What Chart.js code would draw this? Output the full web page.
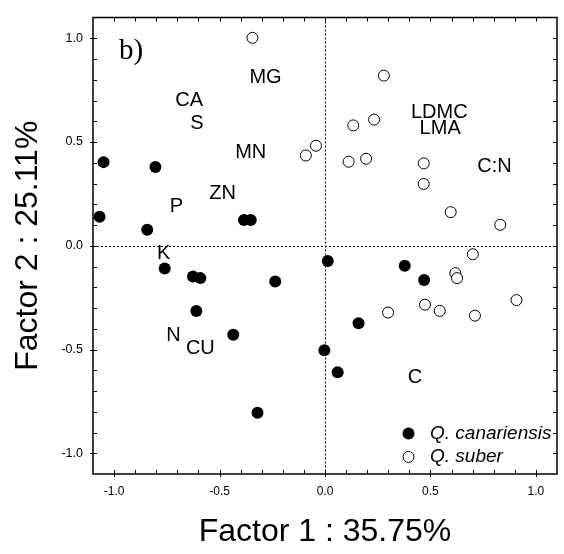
<!DOCTYPE html>
<html>
<head>
<meta charset="utf-8">
<script src="https://cdn.jsdelivr.net/npm/chart.js@4.4.0/dist/chart.umd.min.js"></script>
<style>
  html, body { margin: 0; padding: 0; background: #fff; }
  canvas { display: block; }
</style>
</head>
<body>
<canvas id="myChart" width="564" height="554"></canvas>
<script>
// Sample scores, Q. canariensis (filled)
var canX = [-1.050, -0.804, -1.069, -0.843, -0.384, -0.352, -0.760, -0.626, -0.591, -0.236,
            -0.610, -0.435, -0.320, 0.013, 0.378, 0.470, 0.159, -0.003, 0.060];
var canY = [0.403, 0.380, 0.140, 0.077, 0.124, 0.124, -0.110, -0.148, -0.156, -0.172,
            -0.315, -0.429, -0.805, -0.073, -0.096, -0.165, -0.374, -0.504, -0.610];

// Sample scores, Q. suber (open)
var subX = [-0.344, -0.091, -0.043, 0.279, 0.233, 0.134, 0.112, 0.195, 0.468, 0.468,
            0.596, 0.831, 0.701, 0.618, 0.626, 0.908, 0.474, 0.299, 0.544, 0.711];
var subY = [1.002, 0.435, 0.482, 0.820, 0.608, 0.580, 0.405, 0.419, 0.397, 0.298,
            0.162, 0.101, -0.041, -0.132, -0.156, -0.262, -0.284, -0.322, -0.314, -0.337];

// Variable loadings (text labels)
var varNames = ["MG", "CA", "S", "MN", "ZN", "P", "K", "N", "CU", "C", "LDMC", "LMA", "C:N"];
var varX = [-0.282, -0.644, -0.607, -0.352, -0.486, -0.705, -0.765, -0.719, -0.591, 0.426, 0.542, 0.546, 0.804];
var varY = [0.812, 0.699, 0.589, 0.449, 0.251, 0.190, -0.039, -0.432, -0.496, -0.633, 0.640, 0.565, 0.384];

// Axis ticks
var tickVals = [-1.0, -0.5, 0.0, 0.5, 1.0];
var axisMin = -1.1, axisMax = 1.1;

var seriesNames = ["Q. canariensis", "Q. suber"];
var panelLabel = "b)";

function toPoints(xs, ys) {
  return xs.map(function (x, i) { return { x: x, y: ys[i] }; });
}

Chart.defaults.font.family = '"Liberation Sans", Arial, sans-serif';
Chart.defaults.color = '#000';

// zero lines, frame with inward ticks, labels and legend
var pcaDecor = {
  id: 'pcaDecor',
  beforeDatasetsDraw: function (chart) {
    var ctx = chart.ctx, a = chart.chartArea;
    var x0 = Math.round(chart.scales.x.getPixelForValue(0)) + 0.5;
    var y0 = Math.round(chart.scales.y.getPixelForValue(0)) + 0.5;
    ctx.save();
    ctx.strokeStyle = '#000';
    ctx.lineWidth = 1;
    ctx.setLineDash([2, 2]);
    ctx.beginPath();
    ctx.moveTo(x0, a.top); ctx.lineTo(x0, a.bottom);
    ctx.moveTo(a.left, y0); ctx.lineTo(a.right, y0);
    ctx.stroke();
    ctx.restore();
  },
  afterDatasetsDraw: function (chart) {
    var ctx = chart.ctx, a = chart.chartArea;
    var xs = chart.scales.x, ys = chart.scales.y;
    ctx.save();
    ctx.strokeStyle = '#000';
    ctx.lineWidth = 1.5;
    ctx.strokeRect(a.left, a.top, a.right - a.left, a.bottom - a.top);

    // minor ticks every 0.1, pointing inward
    ctx.lineWidth = 1;
    ctx.beginPath();
    for (var i = -10; i <= 10; i++) {
      var v = i / 10;
      var out = (i % 5 === 0) ? 3 : 0;
      var px = Math.round(xs.getPixelForValue(v)) + 0.5;
      var py = Math.round(ys.getPixelForValue(v)) + 0.5;
      ctx.moveTo(px, a.bottom + out); ctx.lineTo(px, a.bottom - 4);
      ctx.moveTo(px, a.top); ctx.lineTo(px, a.top + 4);
      ctx.moveTo(a.left - out, py); ctx.lineTo(a.left + 4, py);
      ctx.moveTo(a.right, py); ctx.lineTo(a.right - 4, py);
    }
    ctx.stroke();

    // variable names
    ctx.fillStyle = '#000';
    ctx.font = '20px "Liberation Sans", Arial, sans-serif';
    ctx.textAlign = 'center';
    ctx.textBaseline = 'middle';
    varNames.forEach(function (name, i) {
      ctx.fillText(name, xs.getPixelForValue(varX[i]), ys.getPixelForValue(varY[i]));
    });

    // panel letter
    ctx.font = '29px "Liberation Serif", "Times New Roman", serif';
    ctx.textAlign = 'left';
    ctx.textBaseline = 'alphabetic';
    ctx.fillText(panelLabel, a.left + 26, a.top + 41);

    // legend
    ctx.font = 'italic 19px "Liberation Sans", Arial, sans-serif';
    ctx.textBaseline = 'middle';
    chart.data.datasets.forEach(function (ds, i) {
      var cx = a.right - 148.5, cy = a.bottom - 40.5 + i * 23.4;
      ctx.beginPath();
      ctx.arc(cx, cy, ds.pointRadius, 0, Math.PI * 2);
      ctx.fillStyle = ds.backgroundColor;
      ctx.fill();
      if (ds.borderWidth) {
        ctx.lineWidth = ds.borderWidth;
        ctx.strokeStyle = ds.borderColor;
        ctx.stroke();
      }
      ctx.fillStyle = '#000';
      ctx.fillText(ds.label, a.right - 127, cy);
    });
    ctx.restore();
  }
};

var config = {
  type: 'scatter',
  data: {
    datasets: [
      {
        label: seriesNames[0],
        data: toPoints(canX, canY),
        backgroundColor: '#000',
        borderWidth: 0,
        pointRadius: 6,
        pointHoverRadius: 6
      },
      {
        label: seriesNames[1],
        data: toPoints(subX, subY),
        backgroundColor: '#fff',
        borderColor: '#000',
        borderWidth: 1,
        pointRadius: 5.5,
        pointHoverRadius: 5.5
      }
    ]
  },
  options: {
    responsive: false,
    animation: false,
    layout: { padding: { left: 0, top: 10, right: 7, bottom: 0 } },
    scales: {
      x: {
        min: axisMin,
        max: axisMax,
        afterBuildTicks: function (scale) {
          scale.ticks = tickVals.map(function (v) { return { value: v }; });
        },
        afterFit: function (scale) { scale.height = 80; },
        grid: { display: false, drawTicks: false },
        border: { display: false },
        ticks: {
          padding: 10,
          font: { size: 12 },
          callback: function (v) { return Number(v).toFixed(1); }
        },
        title: {
          display: true,
          text: 'Factor 1 : 35.75%',
          font: { size: 32 },
          padding: { top: 0, bottom: 3 }
        }
      },
      y: {
        min: axisMin,
        max: axisMax,
        afterBuildTicks: function (scale) {
          scale.ticks = tickVals.map(function (v) { return { value: v }; });
        },
        afterFit: function (scale) { scale.width = 93; },
        grid: { display: false, drawTicks: false },
        border: { display: false },
        ticks: {
          padding: 10,
          font: { size: 12.5 },
          callback: function (v) { return Number(v).toFixed(1); }
        },
        title: {
          display: true,
          text: 'Factor 2 : 25.11%',
          font: { size: 32 },
          padding: { top: 9, bottom: 0 }
        }
      }
    },
    plugins: {
      legend: { display: false },
      tooltip: { enabled: false }
    }
  },
  plugins: [pcaDecor]
};

var ctx = document.getElementById('myChart').getContext('2d');
var myChart = new Chart(ctx, config);
</script>
</body>
</html>
